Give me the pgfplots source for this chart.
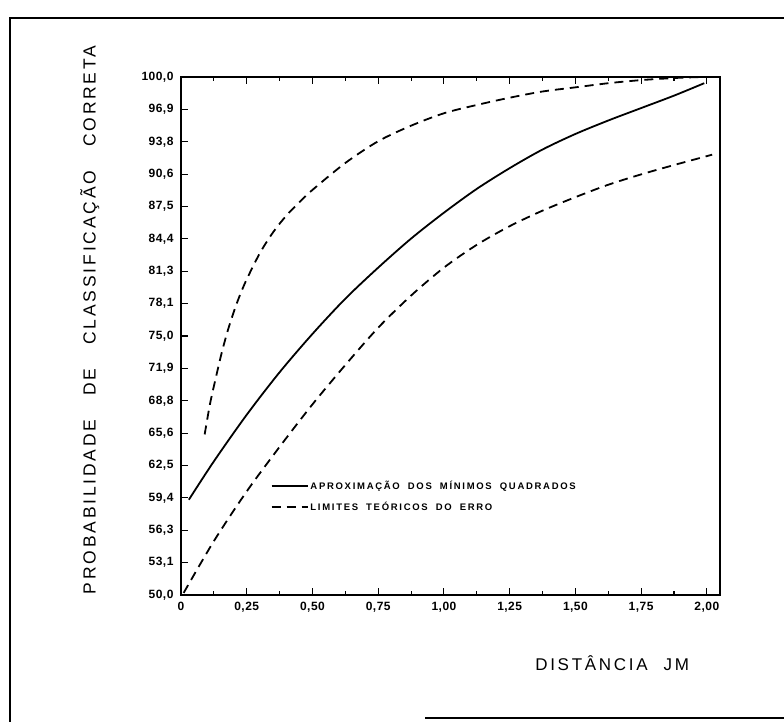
\documentclass[border=0pt]{standalone}
\usepackage{pgfplots}
\pgfplotsset{compat=1.18}
\usepackage{fontspec}
\setmainfont{Liberation Sans}
\newfontfamily\lettering[LetterSpace=16]{Liberation Sans}
\newfontfamily\tickfont[LetterSpace=4]{Liberation Sans}
\newfontfamily\legfont[LetterSpace=18]{Liberation Sans}

\begin{document}
\begin{tikzpicture}[x=1pt,y=1pt]
\useasboundingbox (0,0) rectangle (784,722);
% scanned frame
\draw[line width=2.5pt] (10,0) -- (10,704) -- (784,704);
\draw[line width=2pt] (425,4) -- (784,4);
\begin{axis}[
  at={(181pt,127pt)}, anchor=south west,
  scale only axis, width=539pt, height=518pt,
  xmin=0, xmax=2.05, ymin=50, ymax=100,
  axis line style={line width=1.4pt},
  every tick/.style={black, line width=1.1pt},
  major tick length=7pt, minor tick length=4pt,
  xtick={0,0.25,...,2},
  xticklabels={0,{0,25},{0,50},{0,75},{1,00},{1,25},{1,50},{1,75},{2,00}},
  minor x tick num=1,
  xtick pos=both, ytick pos=left,
  ytick={50,53.125,...,100},
  yticklabels={{50,0},{53,1},{56,3},{59,4},{62,5},{65,6},{68,8},{71,9},{75,0},
    {78,1},{81,3},{84,4},{87,5},{90,6},{93,8},{96,9},{100,0}},
  ticklabel style={font=\tickfont\bfseries\fontsize{12}{14}\selectfont},
  xticklabel style={yshift=-4pt},
  yticklabel style={xshift=-4pt},
  xlabel={DISTÂNCIA\hspace{16pt}JM},
  xlabel style={font=\lettering\fontsize{17}{20}\selectfont, at={(rel axis cs:0.80,-0.131)}, anchor=center},
  ylabel={PROBABILIDADE\hspace{24pt}DE\hspace{24pt}CLASSIFICAÇÃO\hspace{24pt}CORRETA},
  ylabel style={font=\lettering\fontsize{17.5}{20}\selectfont, at={(rel axis cs:-0.169,0.531)}, anchor=center},
  legend style={draw=none, fill=none, at={(axis cs:0.33,61.4)}, anchor=north west,
    font=\legfont\bfseries\fontsize{9.5}{11}\selectfont, row sep=7pt},
  legend cell align=left,
  legend image code/.code={\draw[#1, line width=1.5pt] (0pt,0pt) -- (36pt,0pt);},
]
\addplot[black, line width=1.8pt, smooth] coordinates {
  (0.03,59.2) (0.125,62.9) (0.25,67.4) (0.375,71.5) (0.5,75.2) (0.625,78.6)
  (0.75,81.6) (0.875,84.4) (1.0,86.9) (1.125,89.2) (1.25,91.2) (1.375,93.0)
  (1.5,94.5) (1.625,95.8) (1.75,97.0) (1.875,98.2) (1.99,99.4)};
\addlegendentry{APROXIMAÇÃO\hspace{8pt}DOS\hspace{8pt}MÍNIMOS\hspace{8pt}QUADRADOS}
\addplot[black, line width=1.8pt, dash pattern=on 9pt off 6pt, smooth] coordinates {
  (0.01,50.2) (0.125,55.2) (0.25,60.0) (0.375,64.3) (0.5,68.4) (0.625,72.2)
  (0.75,75.8) (0.875,78.9) (1.0,81.6) (1.125,83.8) (1.25,85.6) (1.375,87.1)
  (1.5,88.4) (1.625,89.6) (1.75,90.6) (1.875,91.5) (2.02,92.5)};
\addlegendentry{LIMITES\hspace{8pt}TEÓRICOS\hspace{8pt}DO\hspace{8pt}ERRO}
\addplot[black, line width=1.8pt, dash pattern=on 9pt off 6pt, smooth, forget plot] coordinates {
  (0.09,65.5) (0.11,68.4) (0.13,70.7) (0.155,73.4) (0.18,75.7) (0.21,78.0)
  (0.245,80.2) (0.30,83.0) (0.35,85.0) (0.40,86.6) (0.45,87.9) (0.5,89.1)
  (0.625,91.7) (0.75,93.8) (0.875,95.3) (1.0,96.5) (1.125,97.3) (1.25,98.0)
  (1.375,98.6) (1.5,99.0) (1.625,99.4) (1.75,99.7) (1.875,99.9) (1.98,100.0)};
\end{axis}
\end{tikzpicture}
\end{document}
